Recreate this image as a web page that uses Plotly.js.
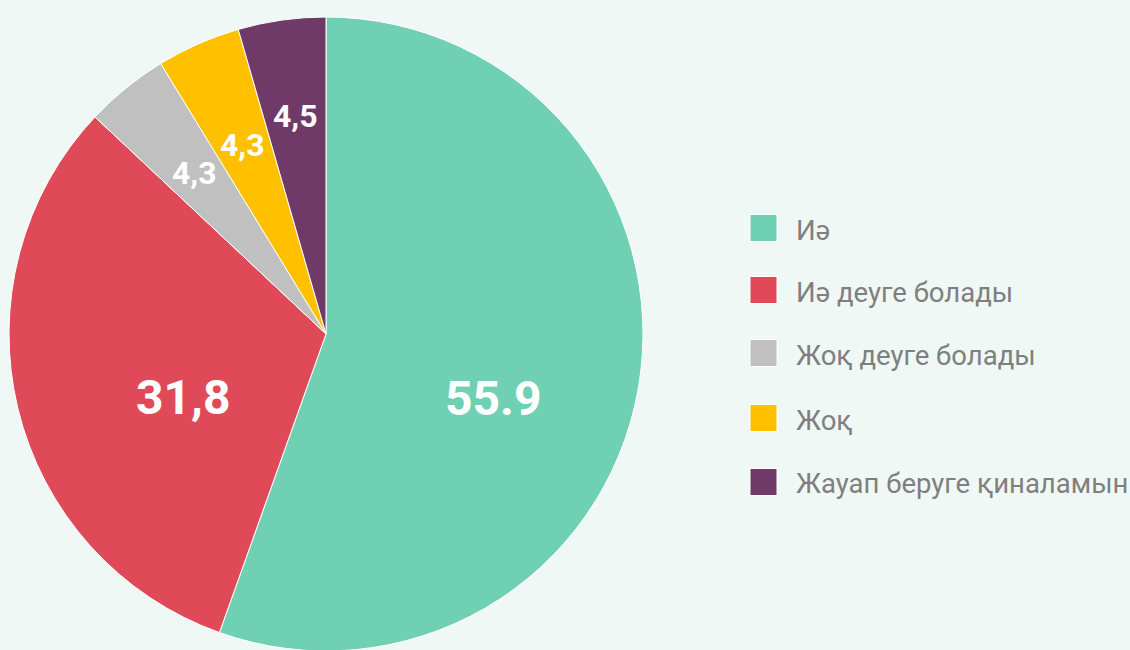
<!DOCTYPE html>
<html>
<head>
<meta charset="utf-8">
<script src="https://cdn.plot.ly/plotly-3.0.1.min.js"></script>
<style>html,body{margin:0;padding:0;background:#f0f8f5;overflow:hidden;}#chart{width:1130px;height:660px;}</style>
</head>
<body>
<div id="chart"></div>
<script>
const categories = ["Иә", "Иә деуге болады", "Жоқ деуге болады", "Жоқ", "Жауап беруге қиналамын"];
const values = [55.9, 31.8, 4.3, 4.3, 4.5];
const valueLabels = ["55.9", "31,8", "4,3", "4,3", "4,5"];
const colors = ["#6fd0b4", "#e04a58", "#bfc0bf", "#ffc000", "#6f3a68"];

// style for value labels
const labelSizes = [48, 48, 32, 32, 32];
const labelRadialFrac = [0.566, 0.493, 0.659, 0.653, 0.697];
const labelAngleShift = [10.8, -10.2, 0, 0, 0];

const W = 1130, H = 660;
const cx = 326, cy = 334, R = 317;

const trace = {
  type: "pie",
  labels: categories,
  values: values,
  textinfo: "none",
  sort: false,
  direction: "clockwise",
  rotation: 0,
  marker: {colors: colors, line: {color: "#ffffff", width: 1}},
  domain: {x: [(cx - R)/W, (cx + R)/W], y: [1 - (cy + R)/H, 1 - (cy - R)/H]},
  hoverinfo: "label+value",
  showlegend: false
};

const shapes = [];
const annotations = [];

// value labels placed from each slice's mid angle
const total = values.reduce((a, b) => a + b, 0);
let cum = 0;
values.forEach((v, i) => {
  const mid = (cum + v / 2) / total * 360 + labelAngleShift[i];
  cum += v;
  const a = mid * Math.PI / 180;
  const px = cx + labelRadialFrac[i] * R * Math.sin(a);
  const py = cy - labelRadialFrac[i] * R * Math.cos(a) + 0.02 * labelSizes[i];
  annotations.push({xref: "paper", yref: "paper", x: px / W, y: 1 - py / H,
    xanchor: "center", yanchor: "middle", text: valueLabels[i], showarrow: false,
    font: {family: "Roboto", size: labelSizes[i], color: "#ffffff", weight: "bold"}});
});

// legend
const legendCenters = [228, 290, 353, 418, 482];
categories.forEach((c, i) => {
  const ly = legendCenters[i];
  shapes.push({type: "rect", xref: "paper", yref: "paper",
    x0: 750/W, x1: 777/W, y0: 1 - (ly + 13.5)/H, y1: 1 - (ly - 13.5)/H,
    fillcolor: colors[i], line: {color: "#ffffff", width: 1}});
  annotations.push({xref: "paper", yref: "paper", x: 794/W, y: 1 - (ly + 2)/H,
    xanchor: "left", yanchor: "middle", text: c, showarrow: false,
    font: {family: "Roboto", size: 27.5, color: "#7f7f7f"}});
});

const layout = {
  width: W, height: H,
  margin: {l: 0, r: 0, t: 0, b: 0},
  paper_bgcolor: "#f0f8f5",
  plot_bgcolor: "#f0f8f5",
  showlegend: false,
  shapes: shapes,
  annotations: annotations
};
Plotly.newPlot("chart", [trace], layout, {displayModeBar: false});
</script>
</body>
</html>
